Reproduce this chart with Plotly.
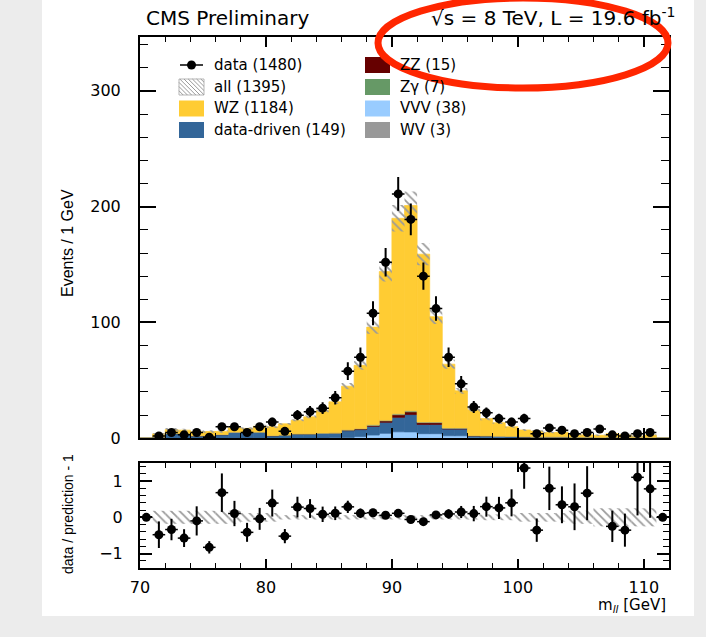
import numpy as np
import plotly.graph_objects as go

# ---------------- binning: m_ll in 1 GeV bins, 70-112 GeV ----------------
bin_lo, bin_hi = 70, 112
centers = np.arange(bin_lo, bin_hi) + 0.5

# observed events per bin
data = [0, 2, 5, 3, 5, 1, 10, 10, 5, 10,
        14, 6, 20, 23, 26, 35, 58, 70, 108, 152,
        211, 189, 140, 112, 70, 47, 27, 22, 17, 14,
        17, 4, 9, 7, 4, 5, 8, 3, 2, 4,
        5, 0]

# expected events per bin, by process
vvv = [0, 0.1, 0.1, 0.1, 0.1, 0.1, 0.1, 0.1, 0.1, 0.2,
       0.2, 0.2, 0.2, 0.2, 0.3, 0.4, 0.6, 1.5, 2.8, 4.3,
       5.6, 5.5, 4.0, 4.0, 2.2, 2.2, 0.6, 0.5, 0.4, 0.3,
       0.2, 0.1, 0.1, 0.1, 0.1, 0.1, 0.1, 0.1, 0.1, 0.1,
       0.1, 0]
data_driven = [0, 1.0, 4.0, 4.0, 2.0, 2.0, 3.0, 5.0, 5.0, 5.0,
               2.0, 2.5, 3.5, 3.5, 4.0, 4.0, 6.0, 6.0, 7.5, 9.5,
               12.5, 15.0, 8.0, 8.0, 5.8, 5.8, 1.5, 1.5, 1.2, 1.2,
               1.0, 1.0, 1.0, 1.0, 0.8, 0.8, 0.6, 0.8, 0.6, 0.6,
               0.6, 0]
zz = [0, 0.1, 0.1, 0.1, 0.1, 0.1, 0.1, 0.1, 0.1, 0.1,
      0.1, 0.1, 0.1, 0.1, 0.1, 0.1, 0.5, 0.6, 0.8, 1.2,
      2.2, 2.3, 1.5, 1.5, 0.6, 0.6, 0.1, 0.1, 0.1, 0.1,
      0.1, 0.1, 0.1, 0.1, 0.1, 0.1, 0.1, 0.1, 0.1, 0.1,
      0.1, 0]
zgamma = [0, 0.1, 0.1, 0.1, 0.1, 0.1, 0.1, 0.1, 0.1, 0.1,
          0.1, 0.1, 0.1, 0.1, 0.1, 0.1, 0.2, 0.3, 0.4, 0.5,
          0.7, 0.8, 0.5, 0.5, 0.3, 0.3, 0.1, 0.1, 0.1, 0.1,
          0.1, 0.05, 0.05, 0.05, 0.05, 0.05, 0.05, 0.05, 0.05, 0.05,
          0.05, 0]
wv = [0, 0.05, 0.05, 0.05, 0.05, 0.05, 0.05, 0.05, 0.05, 0.05,
      0.05, 0.1, 0.1, 0.1, 0.1, 0.1, 0.1, 0.1, 0.1, 0.1,
      0.1, 0.1, 0.1, 0.1, 0.1, 0.1, 0.1, 0.1, 0.1, 0.1,
      0.1, 0.05, 0.05, 0.05, 0.05, 0.05, 0.05, 0.05, 0.05, 0.05,
      0.05, 0]
wz = [0, 2.5, 3.2, 2.7, 3.2, 3.5, 2.6, 3.7, 3.2, 5.0,
      7.6, 9.5, 11.6, 14.5, 19.4, 26.8, 37.6, 54.5, 84.4, 128.4,
      168.9, 177.3, 144.9, 90.9, 55.0, 32.0, 22.1, 14.7, 11.6, 8.2,
      5.7, 4.9, 3.7, 3.9, 2.0, 1.9, 1.7, 2.9, 2.2, 1.0,
      1.9, 0]

# relative uncertainty on the total prediction
rel_unc = [0, 0.18, 0.18, 0.18, 0.18, 0.18, 0.18, 0.18, 0.12, 0.12,
           0.12, 0.06, 0.06, 0.06, 0.06, 0.06, 0.06, 0.06, 0.06, 0.06,
           0.06, 0.06, 0.06, 0.06, 0.06, 0.06, 0.06, 0.08, 0.08, 0.08,
           0.12, 0.12, 0.12, 0.12, 0.18, 0.18, 0.25, 0.25, 0.25, 0.25,
           0.25, 0]

legend_col1 = ["data (1480)", "all (1395)", "WZ (1184)", "data-driven (149)"]
legend_col2 = ["ZZ (15)", "Z\u03b3 (7)", "VVV (38)", "WV (3)"]

# stacking order, bottom to top
stack = [
    ("VVV", vvv, "#99ccff"),
    ("data-driven", data_driven, "#336699"),
    ("ZZ", zz, "#660000"),
    ("Zgamma", zgamma, "#669966"),
    ("WV", wv, "#999999"),
    ("WZ", wz, "#ffcc33"),
]

data_arr = np.array(data, dtype=float)
total = np.zeros(len(centers))
for _, vals, _ in stack:
    total += np.array(vals, dtype=float)
unc = total * np.array(rel_unc)

# ---------------- page geometry (pixels) ----------------
W, H = 706, 637
ML, MR, MT, MB = 140, 37, 37, 69
PW, PH = W - ML - MR, H - MT - MB


def px_x(px):
    return (px - ML) / PW


def px_y(py):
    return (H - MB - py) / PH


main_bottom = px_y(438.3)
ratio_top = px_y(463)

fig = go.Figure()

# stacked histogram (thin outline in the fill colour closes seams between bins)
base = np.zeros(len(centers))
for name, vals, color in stack:
    v = np.array(vals, dtype=float)
    fig.add_trace(go.Bar(
        x=centers, y=v, base=base.copy(), width=1.0,
        marker=dict(color=color, line=dict(width=0.7, color=color)),
        xaxis="x", yaxis="y", showlegend=False, name=name,
    ))
    base += v

hatch = dict(shape="\\", fgcolor="#9a9a9a", bgcolor="rgba(0,0,0,0)",
             size=6, solidity=0.3, fillmode="replace")

# uncertainty band on the total
has_pred = total > 0
fig.add_trace(go.Bar(
    x=centers[has_pred], y=2 * unc[has_pred], base=(total - unc)[has_pred],
    width=1.0, marker=dict(color="rgba(0,0,0,0)", line=dict(width=0), pattern=hatch),
    xaxis="x", yaxis="y", showlegend=False,
))

# data points
has_data = data_arr > 0
fig.add_trace(go.Scatter(
    x=centers[has_data], y=data_arr[has_data], mode="markers",
    marker=dict(color="black", size=9),
    error_y=dict(type="data", array=np.sqrt(data_arr[has_data]), color="black",
                 thickness=2, width=0),
    error_x=dict(type="constant", value=0.5, color="black", thickness=1.5, width=0),
    xaxis="x", yaxis="y", showlegend=False,
))

# ---------------- ratio panel ----------------
rel_band = np.array(rel_unc)
fig.add_trace(go.Bar(
    x=centers[has_pred], y=2 * rel_band[has_pred], base=-rel_band[has_pred],
    width=1.0, marker=dict(color="rgba(0,0,0,0)", line=dict(width=0), pattern=hatch),
    xaxis="x2", yaxis="y2", showlegend=False,
))

ratio = np.where(has_pred, data_arr / np.where(has_pred, total, 1) - 1, 0.0)
ratio_err = np.where(has_pred, np.sqrt(data_arr) / np.where(has_pred, total, 1), 0.0)
ratio_hi = 1.5
in_range = ratio <= ratio_hi
fig.add_trace(go.Scatter(
    x=centers[in_range], y=ratio[in_range], mode="markers",
    marker=dict(color="black", size=9),
    error_y=dict(type="data", array=ratio_err[in_range], color="black",
                 thickness=2, width=0),
    error_x=dict(type="constant", value=0.5, color="black", thickness=1.5, width=0),
    xaxis="x2", yaxis="y2", showlegend=False,
))

tick_font = dict(family="DejaVu Sans", size=16, color="black")
frame = dict(showline=True, linecolor="black", linewidth=2, mirror="ticks",
             showgrid=False, zeroline=False, ticks="inside", tickcolor="black",
             tickwidth=1.5)

fig.update_layout(
    width=W, height=H,
    margin=dict(l=ML, r=MR, t=MT, b=MB, pad=0),
    paper_bgcolor="#ececec", plot_bgcolor="white",
    barmode="overlay", showlegend=False,
    xaxis=dict(domain=[0, 1], range=[bin_lo, bin_hi], anchor="y",
               showticklabels=False, tick0=70, dtick=10, ticklen=10,
               minor=dict(tick0=70, dtick=2, ticklen=5, ticks="inside",
                          tickcolor="black", tickwidth=1.2),
               **frame),
    yaxis=dict(domain=[main_bottom, 1], range=[0, 346.5], anchor="x",
               tick0=0, dtick=100, ticklen=16, tickfont=tick_font,
               ticklabelstandoff=14,
               minor=dict(tick0=0, dtick=20, ticklen=8, ticks="inside",
                          tickcolor="black", tickwidth=1.2),
               **frame),
    xaxis2=dict(domain=[0, 1], range=[bin_lo, bin_hi], anchor="y2", matches="x",
                tick0=70, dtick=10, ticklen=9, tickfont=tick_font,
                ticklabelstandoff=4,
                minor=dict(tick0=70, dtick=2, ticklen=5, ticks="inside",
                           tickcolor="black", tickwidth=1.2),
                **frame),
    yaxis2=dict(domain=[0, ratio_top], range=[-1.4, ratio_hi], anchor="x2",
                tickvals=[-1, 0, 1], ticklen=12, tickfont=tick_font,
                ticklabelstandoff=12,
                minor=dict(tick0=0, dtick=0.2, ticklen=6, ticks="inside",
                           tickcolor="black", tickwidth=1.2),
                **frame),
)

shapes = []
annotations = []

# white page behind the figure
shapes.append(dict(type="rect", xref="paper", yref="paper", layer="below",
                   x0=px_x(42), x1=px_x(694), y0=px_y(616), y1=px_y(-10),
                   fillcolor="white", line=dict(width=0)))

# ---------------- legend ----------------
row_y = [65, 87, 108.5, 130]
box_h = 8
c1_x0, c1_x1, c1_tx = 179, 204, 212
c2_x0, c2_x1, c2_tx = 365, 390, 398


def box(x0, x1, yc, color):
    return dict(type="rect", xref="paper", yref="paper",
                x0=px_x(x0), x1=px_x(x1), y0=px_y(yc + box_h), y1=px_y(yc - box_h),
                fillcolor=color, line=dict(width=0), layer="above")


# data entry: line with marker
shapes.append(dict(type="line", xref="paper", yref="paper",
                   x0=px_x(180), x1=px_x(203), y0=px_y(row_y[0]), y1=px_y(row_y[0]),
                   line=dict(color="black", width=1.5)))
shapes.append(dict(type="circle", xref="paper", yref="paper",
                   x0=px_x(191.5 - 4.5), x1=px_x(191.5 + 4.5),
                   y0=px_y(row_y[0] + 4.5), y1=px_y(row_y[0] - 4.5),
                   fillcolor="black", line=dict(width=0)))

# hatched entry for the total prediction
hx0, hx1 = c1_x0, c1_x1
hy0, hy1 = row_y[1] - box_h, row_y[1] + box_h
shapes.append(dict(type="rect", xref="paper", yref="paper",
                   x0=px_x(hx0), x1=px_x(hx1), y0=px_y(hy1), y1=px_y(hy0),
                   fillcolor="rgba(0,0,0,0)", line=dict(color="#b5b5b5", width=1)))
c = hx0 - hy1
while c < hx1 - hy0:
    ya = max(hy0, hx0 - c)
    yb = min(hy1, hx1 - c)
    if yb > ya:
        shapes.append(dict(type="line", xref="paper", yref="paper",
                           x0=px_x(ya + c), y0=px_y(ya), x1=px_x(yb + c), y1=px_y(yb),
                           line=dict(color="#9a9a9a", width=1)))
    c += 4.2

shapes.append(box(c1_x0, c1_x1, row_y[2], "#ffcc33"))
shapes.append(box(c1_x0, c1_x1, row_y[3], "#336699"))
for yc, color in zip(row_y, ["#660000", "#669966", "#99ccff", "#999999"]):
    shapes.append(box(c2_x0, c2_x1, yc, color))

leg_font = dict(family="DejaVu Sans", size=15, color="black")
for yc, label in zip(row_y, legend_col1):
    annotations.append(dict(text=label, x=px_x(c1_tx), y=px_y(yc), xref="paper", yref="paper",
                            xanchor="left", yanchor="middle", showarrow=False, font=leg_font))
for yc, label in zip(row_y, legend_col2):
    annotations.append(dict(text=label, x=px_x(c2_tx), y=px_y(yc), xref="paper", yref="paper",
                            xanchor="left", yanchor="middle", showarrow=False, font=leg_font))

# ---------------- titles ----------------
annotations.append(dict(text="CMS Preliminary", x=px_x(144), y=px_y(18),
                        xref="paper", yref="paper", xanchor="left", yanchor="middle",
                        showarrow=False, font=dict(family="DejaVu Sans", size=20, color="black")))
annotations.append(dict(text="\u221as = 8 TeV, L = 19.6 fb<sup>-1</sup>", x=px_x(677), y=px_y(17),
                        xref="paper", yref="paper", xanchor="right", yanchor="middle",
                        showarrow=False, font=dict(family="DejaVu Sans", size=20, color="black")))
annotations.append(dict(text="Events / 1 GeV", x=px_x(67), y=px_y(243), textangle=-90,
                        xref="paper", yref="paper", xanchor="center", yanchor="middle",
                        showarrow=False, font=dict(family="Liberation Sans", size=16, color="black")))
annotations.append(dict(text="data / prediction - 1", x=px_x(68), y=px_y(514), textangle=-90,
                        xref="paper", yref="paper", xanchor="center", yanchor="middle",
                        showarrow=False, font=dict(family="Liberation Sans", size=14, color="black")))
annotations.append(dict(text="m<sub><i>ll</i></sub> [GeV]", x=px_x(668), y=px_y(605),
                        xref="paper", yref="paper", xanchor="right", yanchor="middle",
                        showarrow=False, font=dict(family="DejaVu Sans", size=15, color="black")))

# red highlight around the energy / luminosity label
shapes.append(dict(type="circle", xref="paper", yref="paper", layer="above",
                   x0=px_x(378), x1=px_x(668), y0=px_y(88), y1=px_y(-2),
                   line=dict(color="rgb(255,38,0)", width=7)))

fig.update_layout(shapes=shapes, annotations=annotations)
fig.write_html("out.html")
